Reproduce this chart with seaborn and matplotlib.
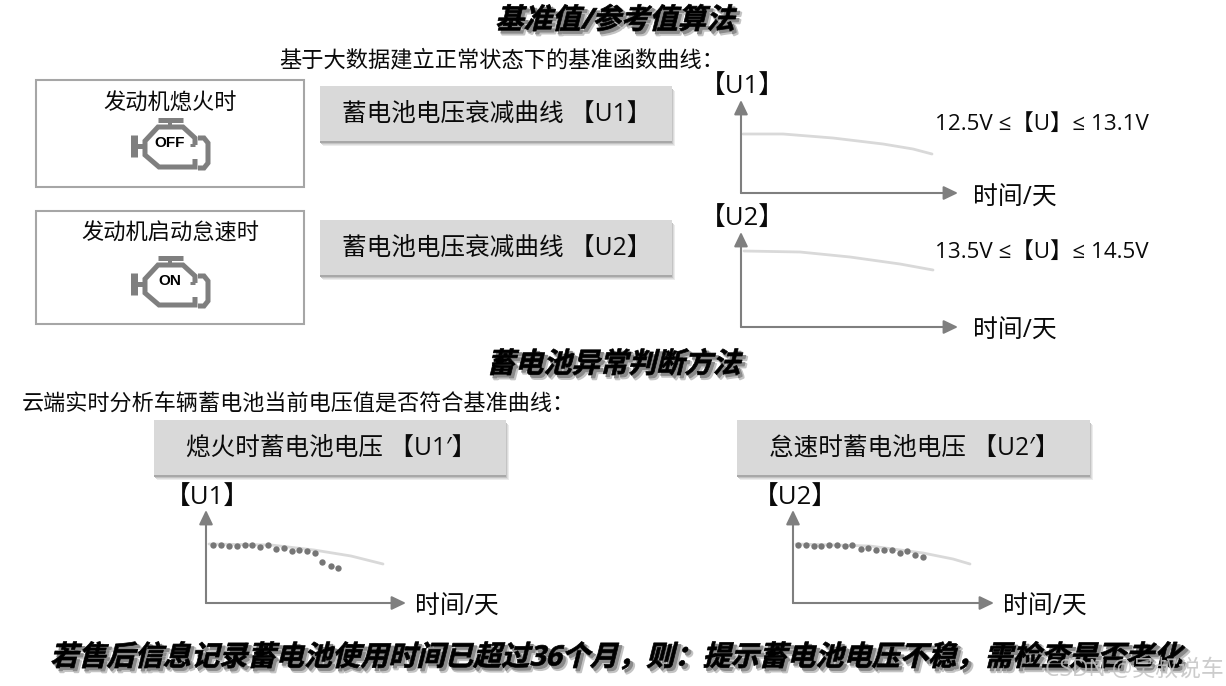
import matplotlib
matplotlib.use("Agg")
import matplotlib.pyplot as plt
import matplotlib.patheffects as pe
from matplotlib.colors import to_rgba
from matplotlib.patches import Rectangle
from matplotlib.transforms import Affine2D
import seaborn as sns

# values (days, volts on an unscaled axis)
base_u1_days = [2, 42, 92, 142, 172, 191]
base_u1_volt = [59, 59, 55, 49, 44, 39]
base_u2_days = [3, 59, 109, 159, 192]
base_u2_volt = [76, 75, 70, 63, 57]

cur_u1_curve_days = [3, 65, 108, 145, 177]
cur_u1_curve_volt = [59, 58, 53, 47, 39]
cur_u1_days = [7, 15, 23, 31, 39, 46, 54, 62, 70, 78, 86, 93, 101, 109, 116, 125, 132]
cur_u1_volt = [58, 58, 57, 57, 57.7, 57.7, 56.3, 57.7, 54, 54.7, 52.3, 53, 52.3, 49.7, 41, 37.3, 35.3]

cur_u2_curve_days = [3, 77, 130, 160, 177]
cur_u2_curve_volt = [59, 57, 50, 44, 39]
cur_u2_days = [5, 13, 21, 28, 36, 44, 52, 59, 68, 75, 83, 91, 99, 107, 114, 122, 130]
cur_u2_volt = [58.3, 58.3, 57.3, 57.3, 58.3, 58, 57, 58, 54.3, 55, 52.7, 53.3, 53, 50, 52, 48, 45.7]

sns.set_theme(style="white")
plt.rcParams["font.family"] = ["Open Sans", "Noto Sans CJK SC", "DejaVu Sans"]

W, H = 1226, 686
GREY = "#7f7f7f"
INK = "#0a0a0a"
fig = plt.figure(figsize=(W / 100, H / 100), dpi=100, facecolor="white")

# page layer in pixel units for the slide furniture
page = fig.add_axes([0, 0, 1, 1])
page.set_xlim(0, W)
page.set_ylim(H, 0)
page.axis("off")


class Slant(pe.AbstractPathEffect):
    # fake italic, the CJK fonts have none
    def __init__(self, deg=14, offset=(0, 0), color="black", lw=0.0):
        super().__init__(offset)
        self.deg = deg
        self.color = color
        self.lw = lw

    def draw_path(self, renderer, gc, tpath, affine, rgbFace):
        y0 = affine.get_matrix()[1, 2]
        tr = affine + Affine2D().translate(0, -y0).skew_deg(self.deg, 0).translate(0, y0)
        tr = tr + self._offset_transform(renderer)
        gc0 = renderer.new_gc()
        gc0.copy_properties(gc)
        gc0.set_foreground(self.color)
        gc0.set_linewidth(self.lw)
        renderer.draw_path(gc0, tpath, tr, to_rgba(self.color))
        gc0.restore()


def slanted(size, x, y, s, ha="center"):
    page.text(x, y, s, fontsize=size, fontweight="bold", ha=ha, va="center", color="black",
              path_effects=[Slant(offset=(3, -3), color="#c4c4c4", lw=1.6),
                            Slant(offset=(2, -2), color="#8a8a8a", lw=0.8),
                            Slant(color="black", lw=0.5)])


def grey_box(x0, y0, x1, y1, label):
    for off, col in [(5, "#ececec"), (4, "#dcdcdc"), (3, "#c4c4c4"), (2, "#a8a8a8")]:
        page.add_patch(Rectangle((x0 + off - 2, y0 + off), x1 - x0, y1 - y0, fc=col, ec="none"))
    page.add_patch(Rectangle((x0, y0), x1 - x0, y1 - y0, fc="#d9d9d9", ec="none"))
    page.text((x0 + x1) / 2 + 1, (y0 + y1) / 2 + 1, label, fontsize=17.7, ha="center", va="center", color=INK)


def engine(cx, top, label):
    # check-engine icon, offsets from the middle of its top bar
    parts = [([-12, 13], [0, 0], 5), ([0, 0], [0, 8], 4),
             ([25, 25, 13, -12, -25, -25, -11, 25, 25], [25, 18, 7, 7, 21, 35, 47, 47, 39], 5),
             ([-36, -36], [15, 37], 7), ([-36, -25], [26, 26], 5),
             ([20, 25], [25, 25], 3),
             ([28, 34, 38, 38, 34, 28], [18, 18, 23, 43, 48, 48], 5)]
    for xs, ys, px in parts:
        page.plot([cx + v for v in xs], [top + v for v in ys], color=GREY, lw=px * 0.72,
                  solid_capstyle="butt", solid_joinstyle="miter")
    page.text(cx, top + 23, label, fontsize=11, fontweight="bold", ha="center", va="center", color="black",
              family="Liberation Sans")


def panel(ox, oy, w, h, curve_x, curve_y, dots_x=None, dots_y=None):
    ax = fig.add_axes([ox / W, 1 - oy / H, w / W, h / H])
    ax.set_xlim(0, w)
    ax.set_ylim(0, h)
    ax.axis("off")
    sns.lineplot(x=curve_x, y=curve_y, ax=ax, color="#d9d9d9", linewidth=2.0, errorbar=None)
    if dots_x is not None:
        sns.scatterplot(x=dots_x, y=dots_y, ax=ax, color="#767676", s=21, linewidth=0, zorder=3)
    for tip in [(1, 0), (0, 1)]:
        ax.annotate("", xy=tip, xytext=(0, 0), xycoords="axes fraction", textcoords="axes fraction",
                    annotation_clip=False,
                    arrowprops=dict(arrowstyle="-|>,head_length=0.75,head_width=0.36", color=GREY, lw=1.5,
                                    mutation_scale=11.5, shrinkA=0, shrinkB=0))


slanted(20.5, 615, 21, "基准值/参考值算法")
slanted(20.3, 614, 365, "蓄电池异常判断方法")
slanted(20.3, 617, 658, "若售后信息记录蓄电池使用时间已超过36个月，则：提示蓄电池电压不稳，需检查是否老化")

page.text(279, 61, "基于大数据建立正常状态下的基准函数曲线：", fontsize=16, va="center", color=INK)
page.text(22, 405, "云端实时分析车辆蓄电池当前电压值是否符合基准曲线：", fontsize=15.9, va="center", color=INK)

for y0, y1, label, tx, ty, state in [(80, 187, "发动机熄火时", 170, 103, "OFF"),
                                     (211, 324, "发动机启动怠速时", 170, 234, "ON")]:
    page.add_patch(Rectangle((36, y0), 268, y1 - y0, fc="white", ec="#a6a6a6", lw=1.5))
    page.text(tx, ty, label, fontsize=16, ha="center", va="center", color=INK)
    engine(170, y0 + 40 if state == "OFF" else y0 + 47, state)

grey_box(320, 86, 672, 141, "蓄电池电压衰减曲线 【U1】")
grey_box(320, 220, 672, 275, "蓄电池电压衰减曲线 【U2】")
grey_box(154, 420, 506, 475, "熄火时蓄电池电压 【U1′】")
grey_box(737, 420, 1090, 475, "怠速时蓄电池电压 【U2′】")

panel(741, 193, 217, 93, base_u1_days, base_u1_volt)
panel(741, 327, 217, 95, base_u2_days, base_u2_volt)
panel(206, 603, 200, 93, cur_u1_curve_days, cur_u1_curve_volt, cur_u1_days, cur_u1_volt)
panel(793, 603, 201, 93, cur_u2_curve_days, cur_u2_curve_volt, cur_u2_days, cur_u2_volt)

for x, y, s in [(742, 86, "【U1】"), (742, 218, "【U2】"), (207, 497, "【U1】"), (795, 497, "【U2】")]:
    page.text(x, y, s, fontsize=18.5, ha="center", va="center", color=INK)
for x, y in [(1015, 198), (1015, 331), (457, 607), (1045, 607)]:
    page.text(x, y, "时间/天", fontsize=17.9, ha="center", va="center", color=INK)
page.text(1042, 124, "12.5V ≤【U】≤ 13.1V", fontsize=16.1, ha="center", va="center", color=INK)
page.text(1042, 252, "13.5V ≤【U】≤ 14.5V", fontsize=16.1, ha="center", va="center", color=INK)

# site watermark on the source image
page.text(1224, 670, "CSDN @吴叔说车", fontsize=16.5, ha="right", va="center", color="#c4c4c4", alpha=0.85, zorder=5)

fig.savefig("out.png", dpi=100)
